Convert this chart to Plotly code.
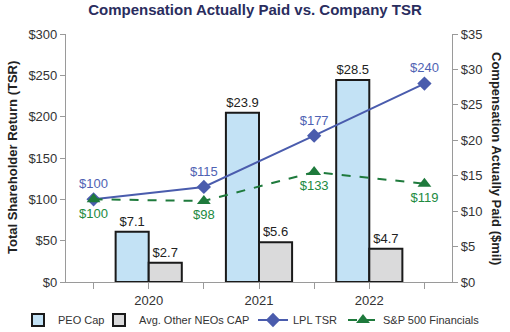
import plotly.graph_objects as go

years = ["2020", "2021", "2022"]
peo_cap = [7.1, 23.9, 28.5]
neo_cap = [2.7, 5.6, 4.7]
tsr_labels_x = [-0.5, 0.5, 1.5, 2.5]
lpl_tsr = [100, 115, 177, 240]
sp500_fin = [100, 98, 133, 119]

bar_x = list(range(len(years)))
FONT = "Liberation Sans, Arial, sans-serif"
W, H = 510, 332

fig = go.Figure()
fig.add_trace(go.Bar(
    x=bar_x, y=peo_cap, name="PEO Cap", yaxis="y", legend="legend",
    width=0.3, offset=-0.3,
    marker=dict(color="#c3e2f5", line=dict(color="#1a1a1a", width=2)),
    text=[f"${v:.1f}" for v in peo_cap], textposition="outside",
    textfont=dict(size=13, color="#222"), cliponaxis=False,
))
fig.add_trace(go.Bar(
    x=bar_x, y=neo_cap, name="Avg. Other NEOs CAP", yaxis="y", legend="legend2",
    width=0.3, offset=0,
    marker=dict(color="#dadadb", line=dict(color="#1a1a1a", width=2)),
    text=[f"${v:.1f}" for v in neo_cap], textposition="outside",
    textfont=dict(size=13, color="#222"), cliponaxis=False,
))
fig.add_trace(go.Scatter(
    x=tsr_labels_x, y=lpl_tsr, name="LPL TSR", yaxis="y2", legend="legend3",
    mode="lines+markers+text",
    line=dict(color="#4a5cad", width=2),
    marker=dict(symbol="diamond", size=11, color="#4a5cad"),
    text=[f"${v}" for v in lpl_tsr], textposition="top center",
    textfont=dict(size=13, color="#4f63b3"), cliponaxis=False,
))
fig.add_trace(go.Scatter(
    x=tsr_labels_x, y=sp500_fin, name="S&P 500 Financials", yaxis="y2", legend="legend4",
    mode="lines+markers+text",
    line=dict(color="#1e7a3c", width=2, dash="dash"),
    marker=dict(symbol="triangle-up", size=12, color="#1e7a3c"),
    text=[f"${v}" for v in sp500_fin], textposition="bottom center",
    textfont=dict(size=13, color="#218a40"), cliponaxis=False,
))

axis_common = dict(
    showline=True, linecolor="#9a9a9a", linewidth=1.2,
    ticks="outside", tickcolor="#9a9a9a", ticklen=5, tickwidth=1,
    showgrid=False, zeroline=False,
    tickfont=dict(size=13, color="#333"),
)


def legend_at(px_left):
    return dict(orientation="h", xref="container", yref="container",
                x=px_left / W, xanchor="left", y=1 - 320 / H, yanchor="middle",
                font=dict(size=11, color="#333"), itemwidth=30,
                bgcolor="rgba(0,0,0,0)")


fig.update_layout(
    width=W, height=H,
    margin=dict(l=66, r=58, t=34, b=50, autoexpand=False),
    paper_bgcolor="white", plot_bgcolor="white",
    font=dict(family=FONT, color="#333"),
    barmode="overlay",
    showlegend=True,
    title=dict(text="<b>Compensation Actually Paid vs. Company TSR</b>",
               x=0.5, xanchor="center", y=0.97, yanchor="middle",
               font=dict(size=15, color="#2a2d5e", family=FONT)),
    xaxis=dict(
        range=[-0.75, 2.75],
        tickvals=[-0.5, 0, 0.5, 1, 1.5, 2, 2.5],
        ticktext=["", years[0], "", years[1], "", years[2], ""],
        ticklen=6, **{k: v for k, v in axis_common.items() if k != "ticklen"},
    ),
    yaxis=dict(
        side="right", range=[0, 35], tickvals=list(range(0, 36, 5)),
        ticktext=[f"${v}" for v in range(0, 36, 5)],
        **axis_common,
    ),
    yaxis2=dict(
        side="left", overlaying="y", range=[0, 300],
        tickvals=list(range(0, 301, 50)),
        ticktext=[f"${v}" for v in range(0, 301, 50)],
        **axis_common,
    ),
    legend=legend_at(18),
    legend2=legend_at(99),
    legend3=legend_at(253),
    legend4=legend_at(343),
    annotations=[
        dict(text="<b>Total Shareholder Return (TSR)</b>", xref="paper", yref="paper",
             x=(12 - 66) / 386, y=0.5, xanchor="center", yanchor="middle", showarrow=False,
             textangle=-90, font=dict(size=13, color="#222")),
        dict(text="<b>Compensation Actually Paid ($mil)</b>", xref="paper", yref="paper",
             x=(497 - 66) / 386, y=0.5, xanchor="center", yanchor="middle", showarrow=False,
             textangle=90, font=dict(size=13, color="#222")),
    ],
)

fig.write_html("out.html")
